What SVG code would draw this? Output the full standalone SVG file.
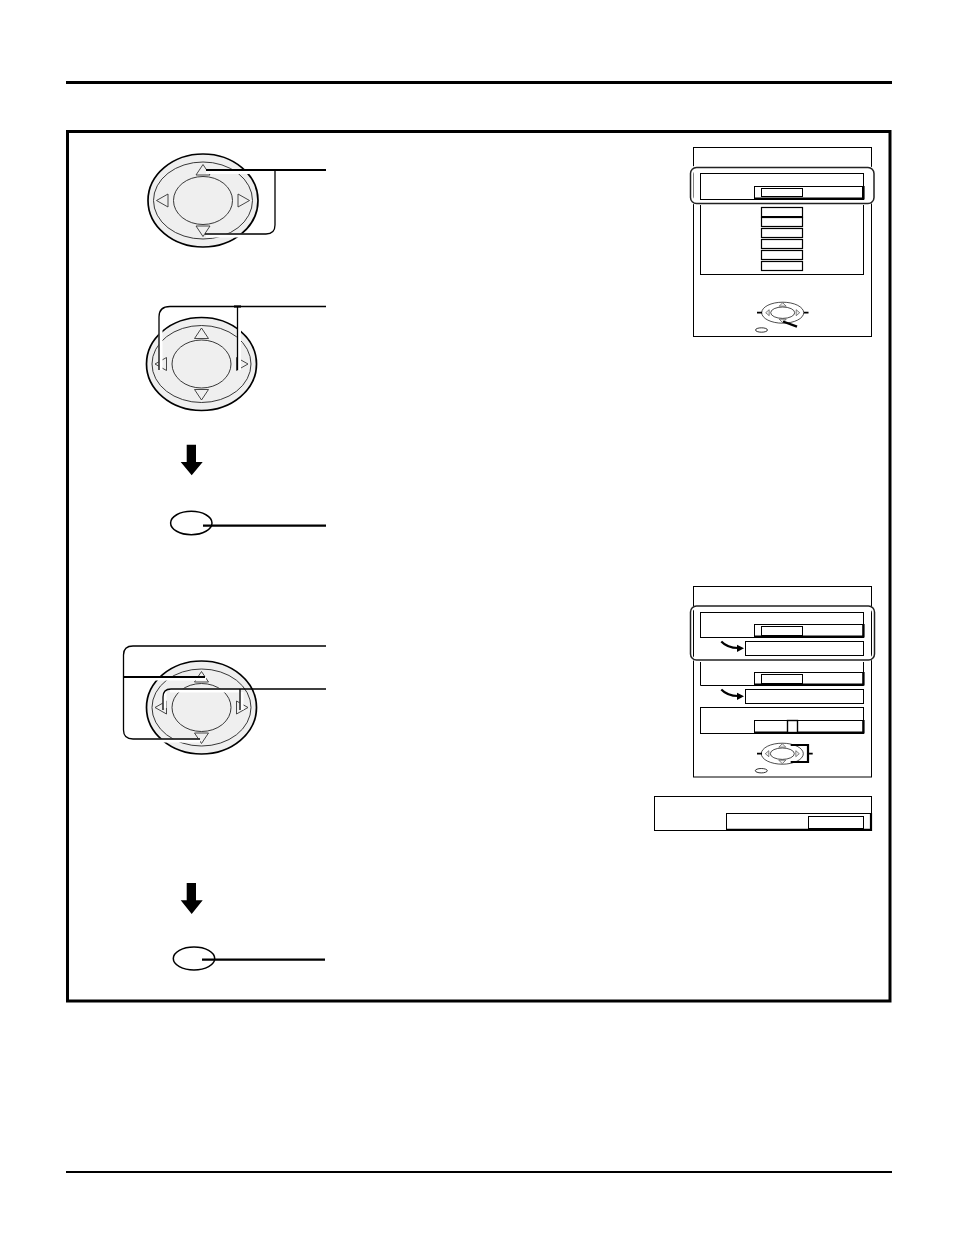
<svg xmlns="http://www.w3.org/2000/svg" width="954" height="1235" viewBox="0 0 954 1235">
<style>
.k{fill:none;stroke:#000;stroke-width:1}
.w{fill:#fff;stroke:#000;stroke-width:1}
.i{fill:#fff;stroke:#000;stroke-width:1}
.c{fill:none;stroke:#000;stroke-width:1.3}
.c2{fill:none;stroke:#000;stroke-width:2.2}
.h{fill:none;stroke:#fff;stroke-width:4}
.t{fill:none;stroke:#000;stroke-width:2.2}
.m{fill:none;stroke:#000;stroke-width:.8}
.s{fill:#fff;stroke:#000;stroke-width:1.2}
</style>
<defs>
<g id="pad">
<ellipse cx="0" cy="0" rx="55" ry="46.500" fill="#efefef" stroke="#000" stroke-width="1.700"/>
<ellipse cx="0" cy="0" rx="49.500" ry="38.500" fill="none" stroke="#222" stroke-width=".9"/>
<ellipse cx="0" cy="0" rx="29.500" ry="24" fill="#efefef" stroke="#222" stroke-width=".9"/>
<path d="M0-36-7-25.500H7ZM0 36-7 25.500H7ZM-46.500 0-35-6.500V6.500ZM46.500 0 35-6.500V6.500Z" fill="#efefef" stroke="#333" stroke-width=".9"/>
</g>
<g id="minipad">
<ellipse cx="0" cy="0" rx="21" ry="10.500" fill="#fff" stroke="#000" stroke-width=".7"/>
<ellipse cx="0" cy="0" rx="12" ry="5.700" fill="#fff" stroke="#000" stroke-width=".7"/>
<path d="M0-10-3.500-6.500H3.500ZM0 10-3.500 6.500H3.500ZM-17 0-13.500-3V3ZM17 0 13.500-3V3Z" fill="#eee" stroke="#333" stroke-width=".6"/>
</g>
<path id="curl" d="M721.300 641.500C726 646.500 732 648 738 648" fill="none" stroke="#000" stroke-width="2.200"/>
</defs>
<rect width="954" height="1235" fill="#fff"/>
<g id="page">
<rect x="66" y="81" width="826" height="3"/>
<rect x="67.500" y="131.500" width="822.500" height="869.500" fill="none" stroke="#000" stroke-width="3"/>
<rect x="66" y="1171" width="826" height="2"/>
</g>
<g id="pad-1"><use href="#pad" x="203" y="200.500"/></g>
<g id="pad-2"><use href="#pad" x="201.500" y="364"/></g>
<g id="pad-3"><use href="#pad" x="201.500" y="707.500"/></g>
<g id="button-1"><ellipse cx="191.300" cy="523" rx="20.700" ry="11.700" fill="#fff" stroke="#000" stroke-width="1.500"/></g>
<g id="button-2"><ellipse cx="194" cy="958.500" rx="20.700" ry="11.500" fill="#fff" stroke="#000" stroke-width="1.500"/></g>
<g id="arrow-1"><path d="M186.700 444.700H196V462H202.700L191.700 475.300 180.700 462H186.700Z"/></g>
<g id="arrow-2"><path d="M186.700 883H196V900.300H202.700L191.700 914 180.700 900.300H186.700Z"/></g>
<g id="connectors">
<path class="h" d="M206 172H258M206 235.500H262M160.500 318V370M239 318V370M135 740.500H200M164.500 692V708M241.500 692V710M150 678.500H206M170 690.500H239"/>
<path class="c2" d="M206 170H326"/>
<path class="c" d="M205 234H266Q275 234 275 225V170"/>
<path class="c" d="M326 306.500H170Q159 306.500 159 317V370M237.500 306.500V370"/>
<path class="c2" d="M234 306.500H241"/>
<path class="c" d="M326 646H133Q123.500 646 123.500 655V730Q123.500 739 133 739H200"/>
<path class="c2" d="M123.500 677H205"/>
<path class="c" d="M326 689H171Q163 689 163 697V710M240 689V710"/>
<path class="c2" d="M203 525.700H326"/>
<path class="c2" d="M202 959.700H325"/>
</g>
<g id="screen-1">
<rect class="k" x="693.500" y="147.500" width="178" height="189"/>
<rect class="w" x="700.500" y="204.500" width="163" height="70"/>
<rect x="691" y="168" width="182" height="34.500" rx="6" fill="none" stroke="#fff" stroke-width="5"/>
<rect class="w" x="700.500" y="173.500" width="163" height="26"/>
<rect class="k" x="754.500" y="186.500" width="108" height="12.500"/>
<path class="t" d="M754 198.500H863.500V186"/>
<rect class="i" x="761.500" y="188.500" width="41" height="8"/>
<rect class="s" x="761.500" y="207.500" width="41" height="9.500"/>
<rect class="s" x="761.500" y="217.500" width="41" height="9"/>
<rect class="s" x="761.500" y="228.500" width="41" height="9"/>
<rect class="s" x="761.500" y="239.500" width="41" height="9"/>
<rect class="s" x="761.500" y="250.500" width="41" height="9"/>
<rect class="s" x="761.500" y="261.500" width="41" height="9"/>
<path d="M761 216.800H803" stroke="#000" stroke-width="1.800"/>
<rect x="690.500" y="167.500" width="183.500" height="36" rx="6" fill="none" stroke="#222" stroke-width="1.500"/>
<use href="#minipad" x="782.700" y="312.700"/>
<path d="M757 312.700H762M804 312.700H808.500" stroke="#000" stroke-width="1.800"/>
<path d="M783 321.500 797 326.700" stroke="#000" stroke-width="2.400"/>
<ellipse cx="761.500" cy="330" rx="6" ry="2.200" class="m"/>
</g>
<g id="screen-2">
<rect class="k" x="693.500" y="586.500" width="178" height="190.500"/>
<rect class="w" x="700.500" y="612.500" width="163" height="25"/>
<rect class="k" x="754.500" y="624.500" width="108.500" height="12.500"/>
<path class="t" d="M754 636.500H863.500V624"/>
<rect class="i" x="761.500" y="626.500" width="41" height="9"/>
<rect class="w" x="745.500" y="641.500" width="118" height="14"/>
<use href="#curl"/>
<path d="M737 644.700 744 648.300 737 652Z"/>
<path class="w" d="M700.500 662V685.500H863.500V662"/>
<rect x="691" y="607" width="182.500" height="53" rx="6" fill="none" stroke="#fff" stroke-width="3"/>
<rect class="k" x="754.500" y="672.500" width="108.500" height="12.500"/>
<path class="t" d="M754 684.500H863.500V672"/>
<rect class="i" x="761.500" y="674.500" width="41" height="9"/>
<rect class="w" x="745.500" y="689.500" width="118" height="14"/>
<use href="#curl" y="48"/>
<path d="M737 692.700 744 696.300 737 700Z"/>
<rect class="w" x="700.500" y="707.500" width="163" height="26"/>
<rect class="k" x="754.500" y="720.500" width="108.500" height="12.500"/>
<path class="t" d="M754 732.500H863.500V720"/>
<rect x="787.500" y="720.500" width="10" height="12" fill="#fff" stroke="#000" stroke-width="1.400"/>
<rect x="690.500" y="606" width="184" height="54" rx="6" fill="none" stroke="#222" stroke-width="1.500"/>
<use href="#minipad" x="782.300" y="753.700"/>
<path d="M757 753.700H762M808 753.700H812.700" stroke="#000" stroke-width="1.800"/>
<path d="M790.700 745H808V762H790.700" fill="none" stroke="#000" stroke-width="2.200"/>
<ellipse cx="761.300" cy="770.700" rx="6" ry="2.200" class="m"/>
</g>
<g id="screen-3">
<rect class="w" x="654.500" y="796.500" width="217" height="34"/>
<rect class="k" x="726.500" y="813.500" width="144.500" height="16.500"/>
<path class="t" d="M726 829.800H871V813"/>
<rect class="i" x="808.500" y="816.500" width="55" height="12"/>
</g>
</svg>
